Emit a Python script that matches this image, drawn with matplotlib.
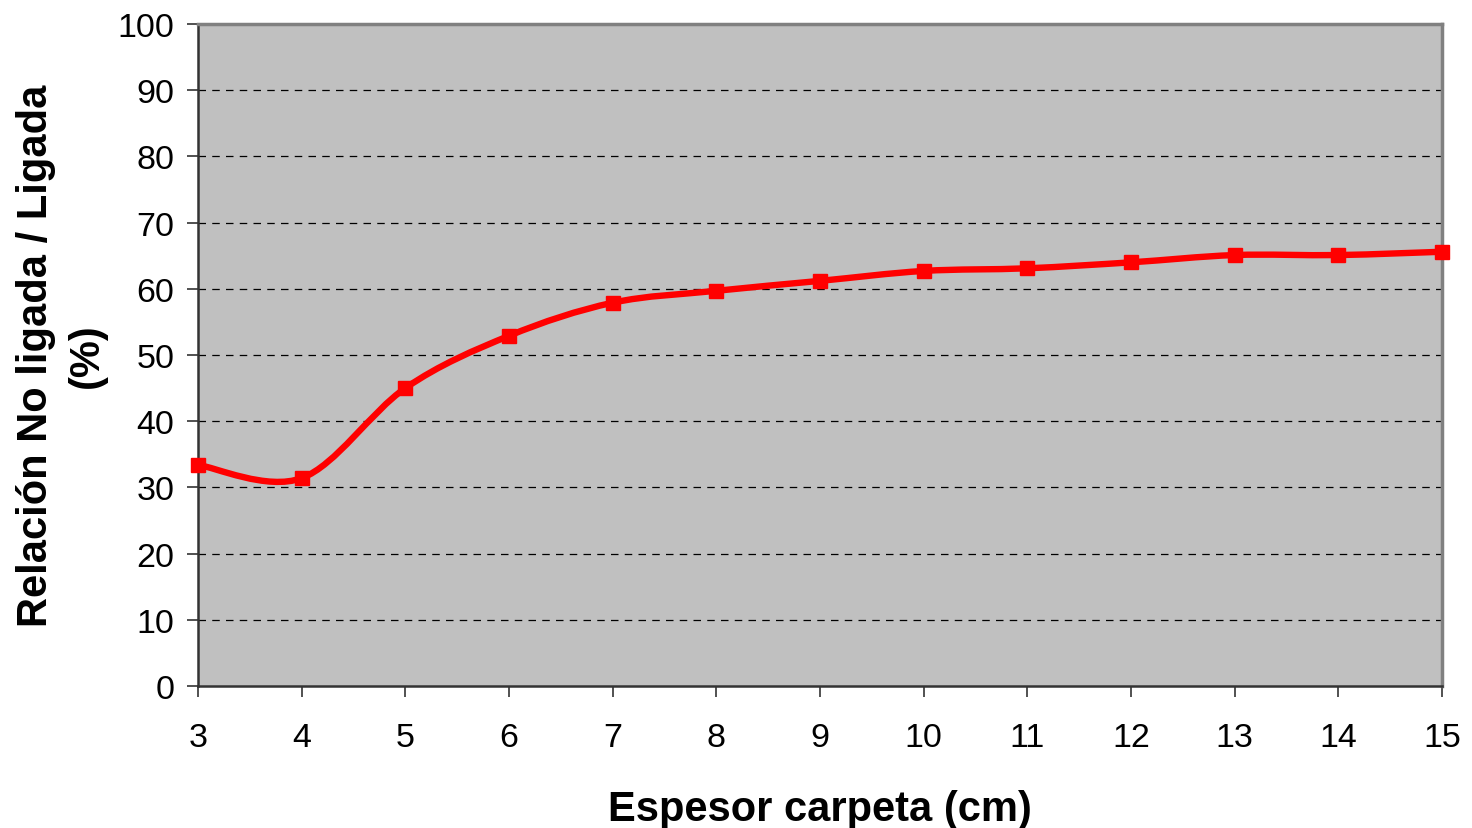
import matplotlib
matplotlib.use("Agg")
import matplotlib.pyplot as plt
from matplotlib.path import Path
from matplotlib.patches import PathPatch
import numpy as np

# Espesor de carpeta (cm) y relación no ligada / ligada (%)
espesor = [3, 4, 5, 6, 7, 8, 9, 10, 11, 12, 13, 14, 15]
relacion = [33.4, 31.4, 45.0, 52.9, 57.9, 59.7, 61.2, 62.7, 63.1, 64.0, 65.1, 65.1, 65.6]
y_ticks = [0, 10, 20, 30, 40, 50, 60, 70, 80, 90, 100]

plt.rcParams['font.family'] = ['Liberation Sans', 'DejaVu Sans']

fig = plt.figure(figsize=(14.72, 8.29), dpi=100)
ax = fig.add_axes([0.1345, 0.1713, 0.8451, 0.7985])
ax.set_facecolor('#C0C0C0')

# Smoothed line: cubic Bezier segments with Catmull-Rom control points
x = np.asarray(espesor, float)
y = np.asarray(relacion, float)
n = len(x)
verts = [(x[0], y[0])]
codes = [Path.MOVETO]
for i in range(n - 1):
    x0, y0 = (x[i - 1], y[i - 1]) if i > 0 else (x[i], y[i])
    x3, y3 = (x[i + 2], y[i + 2]) if i + 2 < n else (x[i + 1], y[i + 1])
    c1 = (x[i] + (x[i + 1] - x0) / 6, y[i] + (y[i + 1] - y0) / 6)
    c2 = (x[i + 1] - (x3 - x[i]) / 6, y[i + 1] - (y3 - y[i]) / 6)
    verts += [c1, c2, (x[i + 1], y[i + 1])]
    codes += [Path.CURVE4] * 3
ax.add_patch(PathPatch(Path(verts, codes), facecolor='none', edgecolor='#FF0000',
                       lw=4.6, capstyle='round', joinstyle='round', zorder=3,
                       clip_on=False))
ax.plot(espesor, relacion, linestyle='none', marker='s', markersize=9.5,
        color='#FF0000', zorder=4, clip_on=False)

ax.set_xlim(3, 15)
ax.set_ylim(0, 100)
ax.set_xticks(espesor)
ax.set_yticks(y_ticks)
ax.tick_params(axis='both', labelsize=24.5, length=8, width=1.2, color='#333333',
               direction='out')
ax.tick_params(axis='x', pad=18)
ax.tick_params(axis='y', pad=9)

for yv in y_ticks[1:-1]:
    ax.axhline(yv, color='black', lw=0.9, ls=(0, (6, 5)), zorder=1)

ax.spines['left'].set_color('#333333')
ax.spines['left'].set_linewidth(1.8)
ax.spines['bottom'].set_color('#333333')
ax.spines['bottom'].set_linewidth(1.8)
ax.spines['top'].set_color('#808080')
ax.spines['top'].set_linewidth(2.5)
ax.spines['right'].set_color('#808080')
ax.spines['right'].set_linewidth(2.5)

ax.set_xlabel('Espesor carpeta (cm)', fontsize=30, fontweight='bold', labelpad=26)
ax.set_ylabel('Relación No ligada / Ligada\n(%)', fontsize=30, fontweight='bold',
              labelpad=8, linespacing=1.35)

fig.savefig('out.png', dpi=100)
